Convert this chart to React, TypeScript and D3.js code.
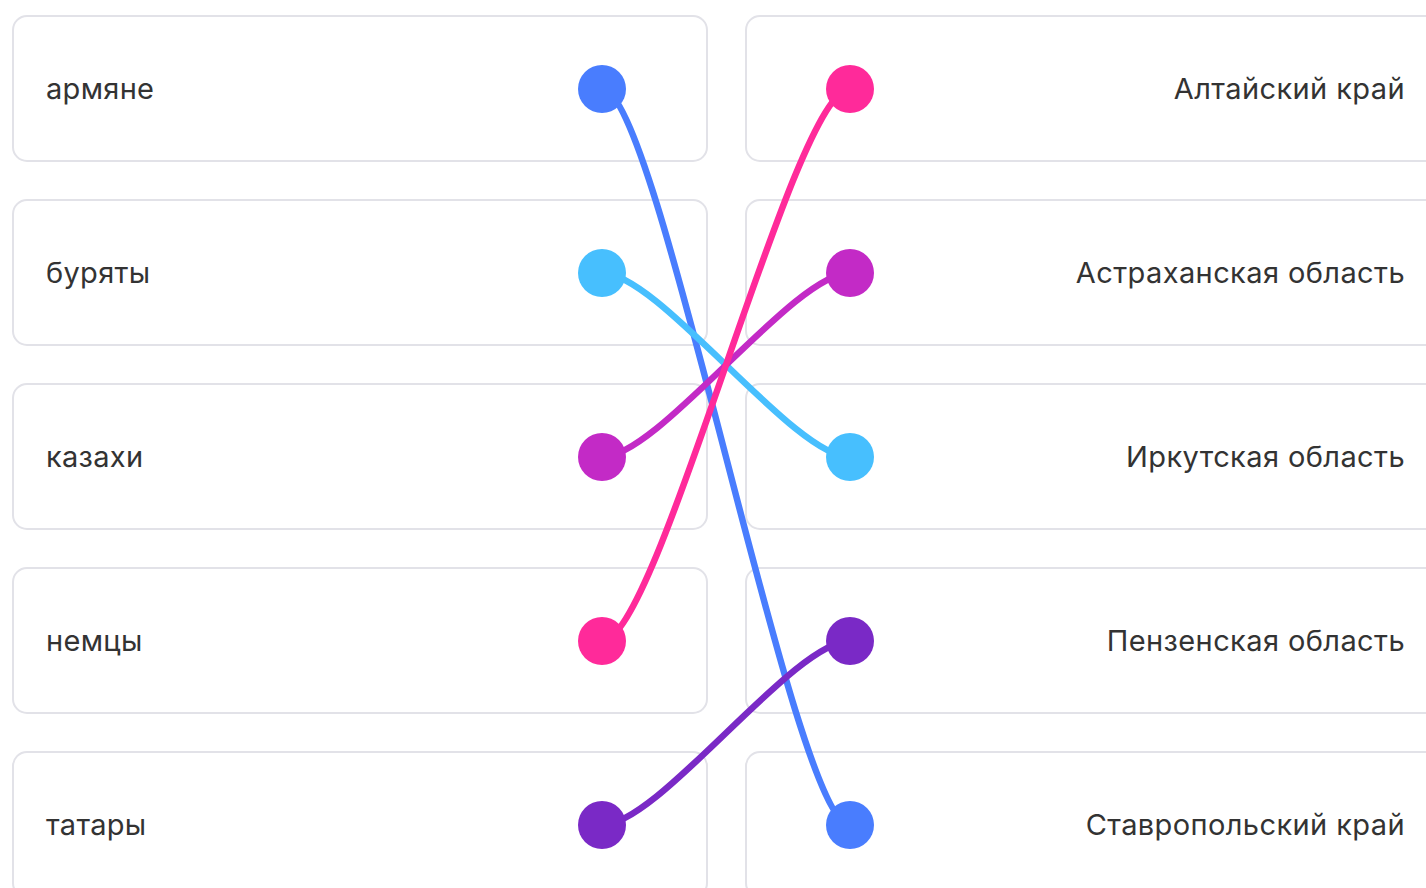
import { useEffect, useRef } from 'react';
import * as d3 from 'd3';

// left column and right column labels
const ethnicGroups = ['армяне', 'буряты', 'казахи', 'немцы', 'татары'];
const regions = [
  'Алтайский край',
  'Астраханская область',
  'Иркутская область',
  'Пензенская область',
  'Ставропольский край',
];
// for each ethnic group: index of matched region
const matches = [4, 2, 1, 0, 3];
const groupColors = ['#497DFE', '#47BFFE', '#C32AC6', '#FF2A9A', '#7A29C6'];

export default function App() {
  const ref = useRef<SVGSVGElement>(null);

  useEffect(() => {
    if (!ref.current) return;
    const svg = d3.select(ref.current);
    svg.selectAll('*').remove();

    const cardH = 145;
    const leftX = 13;
    const rightX = 746;
    const cardW = 694;
    const dotL = 602;
    const dotR = 850;
    const ctrl = 57;

    const y = d3.scalePoint<number>()
      .domain(d3.range(ethnicGroups.length))
      .range([89, 825]);

    // cards
    const cards = svg.append('g');
    [leftX, rightX].forEach(x0 => {
      cards.selectAll(null)
        .data(d3.range(5))
        .enter()
        .append('rect')
        .attr('x', x0)
        .attr('y', i => y(i)! - 73)
        .attr('width', cardW)
        .attr('height', cardH)
        .attr('rx', 14)
        .attr('fill', '#fff')
        .attr('stroke', '#E2E2E8')
        .attr('stroke-width', 2);
    });

    const font = 'Inter, "Noto Sans", sans-serif';

    svg.append('g')
      .selectAll('text')
      .data(ethnicGroups)
      .enter()
      .append('text')
      .attr('x', 46)
      .attr('y', (_, i) => y(i)! + 10)
      .attr('font-family', font)
      .attr('font-size', 29)
      .attr('letter-spacing', 0.3)
      .attr('fill', '#333')
      .text(d => d);

    svg.append('g')
      .selectAll('text')
      .data(regions)
      .enter()
      .append('text')
      .attr('x', 1405)
      .attr('y', (_, i) => y(i)! + 10)
      .attr('text-anchor', 'end')
      .attr('font-family', font)
      .attr('font-size', 29)
      .attr('letter-spacing', 0.4)
      .attr('fill', '#333')
      .text(d => d);

    // connecting curves
    const linkPath = (i: number) => {
      const p = d3.path();
      const y0 = y(i)!;
      const y1 = y(matches[i])!;
      p.moveTo(dotL, y0);
      p.bezierCurveTo(dotL + ctrl, y0, dotR - ctrl, y1, dotR, y1);
      return p.toString();
    };

    svg.append('g')
      .selectAll('path')
      .data(ethnicGroups)
      .enter()
      .append('path')
      .attr('d', (_, i) => linkPath(i))
      .attr('fill', 'none')
      .attr('stroke', (_, i) => groupColors[i])
      .attr('stroke-width', 6.5)
      .attr('stroke-linecap', 'round');

    // dots
    svg.append('g')
      .selectAll('circle')
      .data(ethnicGroups)
      .enter()
      .append('circle')
      .attr('cx', dotL)
      .attr('cy', (_, i) => y(i)!)
      .attr('r', 24)
      .attr('fill', (_, i) => groupColors[i]);

    svg.append('g')
      .selectAll('circle')
      .data(ethnicGroups)
      .enter()
      .append('circle')
      .attr('cx', dotR)
      .attr('cy', (_, i) => y(matches[i])!)
      .attr('r', 24)
      .attr('fill', (_, i) => groupColors[i]);
  }, []);

  return (
    <svg
      ref={ref}
      width={1426}
      height={888}
      style={{ position: 'absolute', left: 0, top: 0, display: 'block', background: '#fff' }}
    />
  );
}
